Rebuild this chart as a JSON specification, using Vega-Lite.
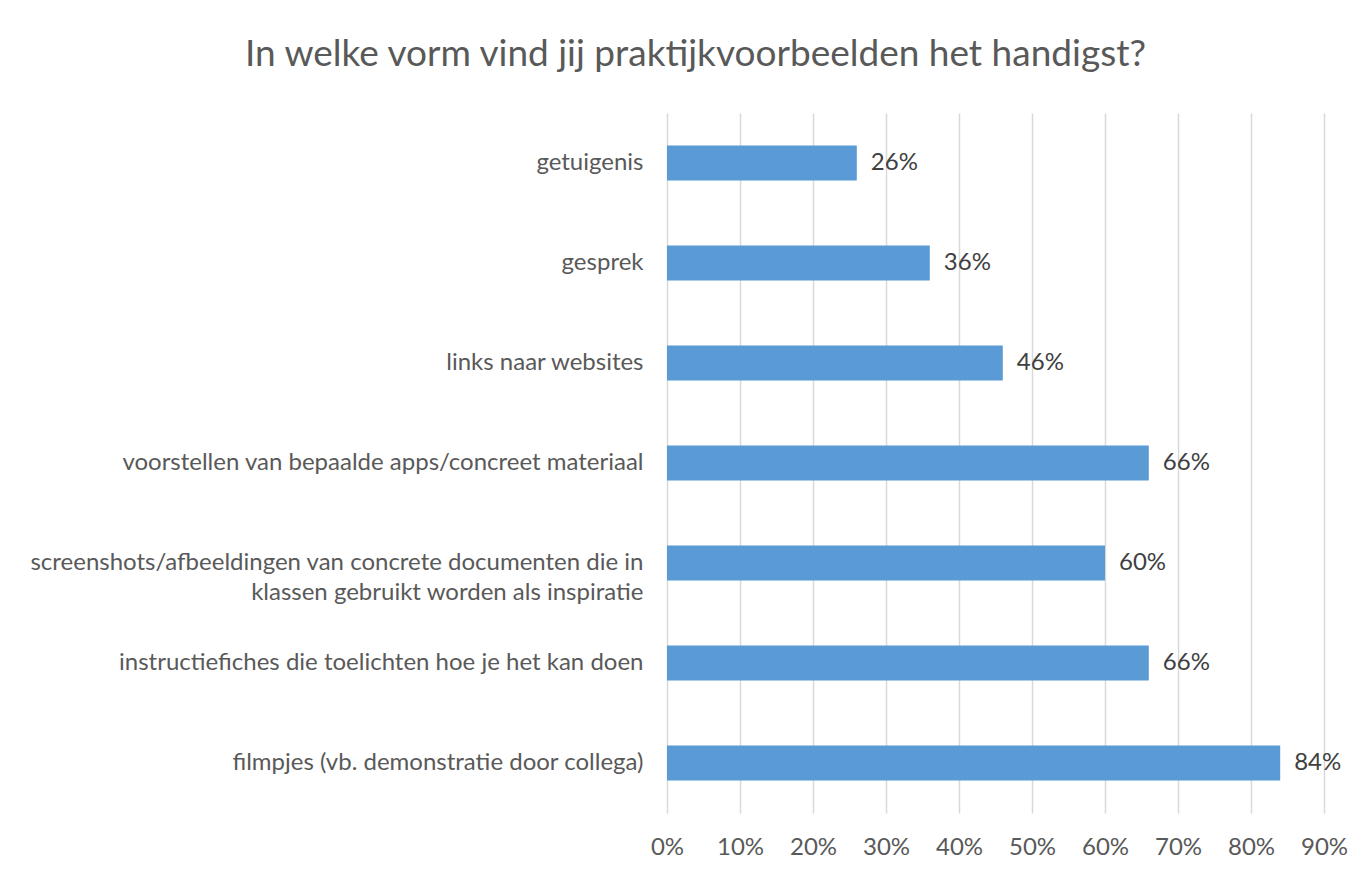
{
  "$schema": "https://vega.github.io/schema/vega-lite/v6.json",
  "autosize": {"type": "none"},
  "width": 657,
  "height": 700,
  "padding": {"left": 667, "top": 113, "right": 35, "bottom": 59},
  "background": "white",
  "title": {
    "text": "In welke vorm vind jij praktijkvoorbeelden  het handigst?",
    "font": "Lato",
    "fontSize": 37,
    "fontWeight": "normal",
    "color": "#595959",
    "anchor": "middle",
    "baseline": "alphabetic",
    "offset": 10,
    "dx": -300
  },
  "data": {
    "values": [
      {"vorm": "getuigenis", "pct": 0.26},
      {"vorm": "gesprek", "pct": 0.36},
      {"vorm": "links naar websites", "pct": 0.46},
      {"vorm": "voorstellen van bepaalde apps/concreet materiaal", "pct": 0.66},
      {"vorm": "screenshots/afbeeldingen van concrete documenten die in\nklassen gebruikt worden als inspiratie", "pct": 0.60},
      {"vorm": "instructiefiches die toelichten hoe je het kan doen", "pct": 0.66},
      {"vorm": "filmpjes (vb. demonstratie door collega)", "pct": 0.84}
    ]
  },
  "encoding": {
    "y": {
      "field": "vorm",
      "type": "nominal",
      "sort": null,
      "title": null,
      "scale": {"paddingInner": 0.65, "paddingOuter": 0.325},
      "axis": {
        "labelExpr": "split(datum.value, '\\n')",
        "labelFont": "Lato",
        "labelFontSize": 24,
        "labelColor": "#595959",
        "labelPadding": 24,
        "labelLineHeight": 30,
        "labelLimit": 700,
        "ticks": false,
        "domain": false,
        "grid": false
      }
    },
    "x": {
      "field": "pct",
      "type": "quantitative",
      "title": null,
      "scale": {"domain": [0, 0.9], "nice": false},
      "axis": {
        "format": ".0%",
        "values": [0, 0.1, 0.2, 0.3, 0.4, 0.5, 0.6, 0.7, 0.8, 0.9],
        "labelFont": "Lato",
        "labelFontSize": 24,
        "labelColor": "#595959",
        "labelPadding": 22,
        "labelFlush": false,
        "labelOverlap": false,
        "ticks": false,
        "domain": false,
        "grid": true,
        "gridColor": "#d9d9d9",
        "gridWidth": 1.5
      }
    }
  },
  "layer": [
    {"mark": {"type": "bar", "color": "#5B9BD5"}},
    {
      "mark": {"type": "text", "align": "left", "dx": 14, "font": "Lato", "fontSize": 24, "color": "#404040"},
      "encoding": {"text": {"field": "pct", "type": "quantitative", "format": ".0%"}}
    }
  ],
  "config": {"view": {"stroke": null}}
}
